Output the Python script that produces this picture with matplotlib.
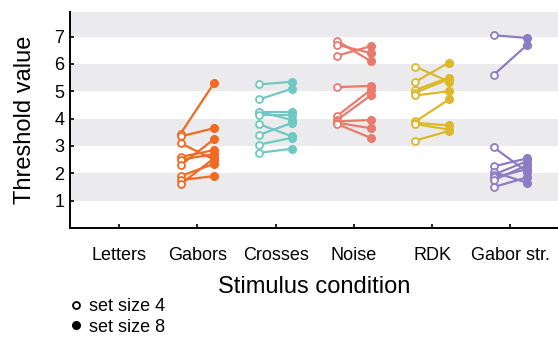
import numpy as np
import matplotlib.pyplot as plt
from matplotlib.lines import Line2D

plt.rcParams['font.family'] = ['Liberation Sans', 'DejaVu Sans']

conditions = ['Letters', 'Gabors', 'Crosses', 'Noise', 'RDK', 'Gabor str.']
colors = [None, '#f26a22', '#6fc8c2', '#e97a6c', '#dcb92a', '#8c7cc4']

# thresholds per subject: set size 4 (open) -> set size 8 (filled)
gabors_4 = [3.45, 3.35, 3.1, 2.6, 2.5, 2.3, 1.9, 1.75, 1.6]
gabors_8 = [5.3, 3.65, 2.5, 2.85, 2.7, 3.25, 2.35, 1.9, 2.55]
crosses_4 = [5.25, 4.7, 4.25, 4.25, 4.15, 3.8, 3.4, 3.05, 2.75]
crosses_8 = [5.35, 5.1, 4.25, 3.95, 4.15, 3.35, 3.85, 3.3, 2.9]
noise_4 = [6.85, 6.7, 6.3, 5.15, 4.1, 3.95, 3.9, 3.85, 3.8]
noise_8 = [6.1, 6.4, 6.65, 5.2, 5.05, 4.85, 3.95, 3.65, 3.3]
rdk_4 = [5.9, 5.35, 5.05, 4.95, 4.85, 3.9, 3.85, 3.8, 3.2]
rdk_8 = [5.35, 6.05, 5.5, 5.45, 5.0, 4.7, 3.75, 3.6, 3.55]
gaborstr_4 = [7.05, 5.6, 2.95, 2.25, 2.05, 1.95, 1.85, 1.75, 1.5]
gaborstr_8 = [6.95, 6.7, 2.05, 2.55, 1.65, 2.45, 2.15, 2.3, 1.85]

data = [None, (gabors_4, gabors_8), (crosses_4, crosses_8),
        (noise_4, noise_8), (rdk_4, rdk_8), (gaborstr_4, gaborstr_8)]

fig = plt.figure(figsize=(5.58, 3.38), dpi=100)
ax = fig.add_axes([70 / 558, 110 / 338, 488 / 558, 216 / 338])

ax.set_xlim(-0.626, 5.607)
ax.set_ylim(0, 7.9)

for lo in [1, 3, 5, 7]:
    ax.axhspan(lo, lo + 1, color='#ebebed', lw=0, zorder=0)

for i, d in enumerate(data):
    if d is None:
        continue
    x4, x8 = i - 0.214, i + 0.214
    for a, b in zip(*d):
        ax.plot([x4, x8], [a, b], '-', color=colors[i], lw=1.6, zorder=2)
        ax.plot(x4, a, 'o', mfc='white', mec=colors[i], mew=1.3, ms=5,
                zorder=3)
        ax.plot(x8, b, 'o', color=colors[i], ms=5.5, zorder=3)

ax.set_xticks(range(len(conditions)))
ax.set_xticklabels(conditions)
ax.set_yticks(range(1, 8))
ax.tick_params(axis='both', direction='in', length=3, width=1.2,
               labelsize=13, pad=4)
ax.tick_params(axis='x', pad=14)
for s in ['top', 'right']:
    ax.spines[s].set_visible(False)
for s in ['left', 'bottom']:
    ax.spines[s].set_linewidth(1.4)

ax.set_xlabel('Stimulus condition', fontsize=17, labelpad=8)
ax.set_ylabel('Threshold value', fontsize=17, labelpad=13)

handles = [
    Line2D([], [], ls='none', marker='o', mfc='white', mec='black', mew=1.3,
           ms=5, label='set size 4'),
    Line2D([], [], ls='none', marker='o', color='black', ms=5.5,
           label='set size 8'),
]
fig.legend(handles=handles, loc='upper left', bbox_to_anchor=(0.104, 0.145),
           frameon=False, fontsize=13, handletextpad=0.2,
           handlelength=1.0, labelspacing=0.2, borderpad=0)

fig.savefig('out.png', dpi=100)
